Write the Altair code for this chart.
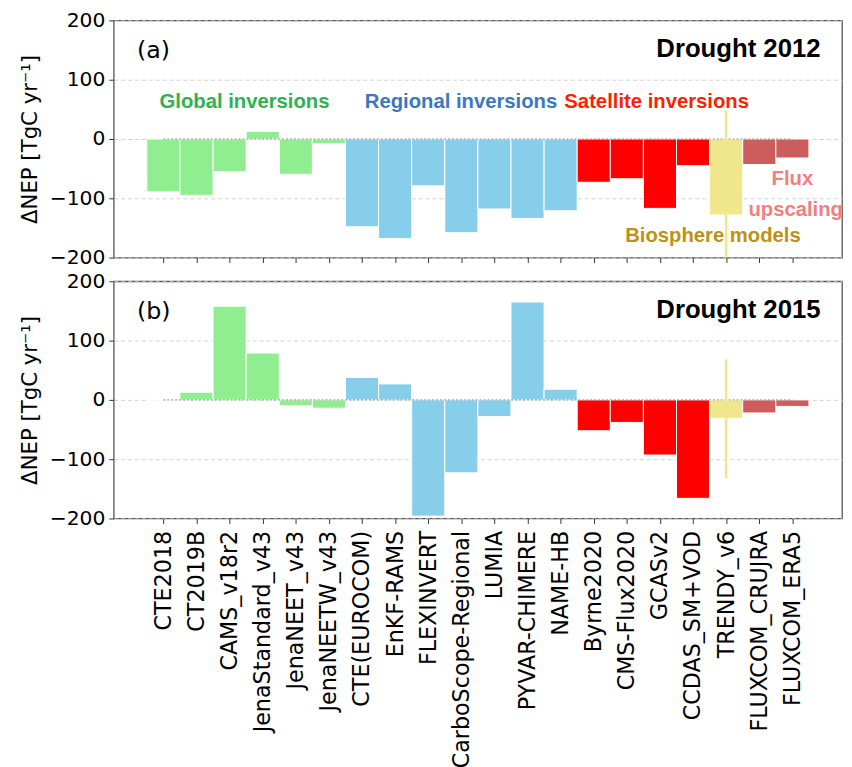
import json
import altair as alt
import pandas as pd

names = ["CTE2018", "CT2019B", "CAMS_v18r2", "JenaStandard_v43", "JenaNEET_v43",
         "JenaNEETW_v43", "CTE(EUROCOM)", "EnKF-RAMS", "FLEXINVERT", "CarboScope-Regional",
         "LUMIA", "PYVAR-CHIMERE", "NAME-HB", "Byrne2020", "CMS-Flux2020", "GCASv2",
         "CCDAS_SM+VOD", "TRENDY_v6", "FLUXCOM_CRUJRA", "FLUXCOM_ERA5"]
groups = ["Global"] * 6 + ["Regional"] * 7 + ["Satellite"] * 4 + ["Biosphere"] + ["Flux"] * 2
group_names = ["Global", "Regional", "Satellite", "Biosphere", "Flux"]
group_colors = ["#90ee90", "#87ceeb", "#ff0000", "#f0e68c", "#cd5c5c"]

v2012 = [-89, -95, -55, 13, -59.5, -8, -148, -168, -79, -158,
         -118, -134, -121, -73, -67, -117, -45, -128, -43, -32]
v2015 = [-0.5, 13, 158, 79, -10, -14, 38, 27, -196, -123,
         -28, 165, 18, -52, -38, -93, -166, -31, -22, -11]

# TRENDY spread (whisker) [top, bottom]
trendy_idx = 17
err2012 = [48, -260]
err2015 = [68, -132]

# annotations (panel a): text, x (category index units), y (data), colour
group_labels_text = ["Global inversions", "Regional inversions", "Satellite inversions",
                     "Biosphere models", "Flux", "upscaling"]
group_labels_x = [2.45, 8.99, 14.9, 16.6, 19.0, 19.1]
group_labels_y = [63, 63, 63, -163, -67, -120]
group_labels_color = ["#2db24f", "#3a78bf", "#ff1f00", "#bd9213", "#f08080", "#f08080"]

panel_letters = ["(a)", "(b)"]
panel_titles = ["Drought 2012", "Drought 2015"]

color_map = dict(zip(group_names, group_colors))
label_expr = json.dumps(names) + "[datum.value]"

W, H = 737, 240


def panel(values, err, letter, title, show_labels, with_groups):
    df = pd.DataFrame({
        "idx": list(range(len(names))),
        "name": names,
        "group": groups,
        "value": values,
    })
    df["lo"] = df["idx"] - 0.5
    df["hi"] = df["idx"] + 0.5
    df["base"] = 0.0
    df["col"] = [color_map[g] for g in groups]

    xscale = alt.Scale(domain=[-1.5, 20.5], nice=False, zero=False)
    yscale = alt.Scale(domain=[-200, 200], nice=False)
    xaxis = alt.Axis(values=list(range(len(names))), labelExpr=label_expr, labels=show_labels,
                     labelAngle=-90, labelAlign="right", labelBaseline="middle",
                     labelFont="DejaVu Sans", labelFontSize=22.5, labelColor="#000",
                     labelPadding=7, labelOverlap=False, labelFlush=False, labelBound=False,
                     labelLimit=0, tickSize=5, tickColor="#333", domain=False, grid=False,
                     title=None)
    yaxis = alt.Axis(values=[-200, -100, 0, 100, 200], grid=True, gridDash=[4, 3],
                     gridColor="#d2d2d2", gridWidth=1, domain=False,
                     labelFont="DejaVu Sans", labelFontSize=20.5, labelColor="#000",
                     labelPadding=4, tickSize=5, tickColor="#333",
                     title="ΔNEP [TgC yr⁻¹]", titleFont="DejaVu Sans", titleFontSize=21.5,
                     titleFontWeight="normal", titleColor="#000", titlePadding=8)

    def X(f):
        return alt.X(f, scale=xscale, axis=xaxis)

    def Y(f):
        return alt.Y(f, scale=yscale, axis=yaxis)

    bars = alt.Chart(df).mark_rect(stroke="white", strokeWidth=1).encode(
        x=X("lo:Q"), x2="hi:Q", y=Y("value:Q"), y2="base:Q",
        color=alt.Color("col:N", scale=None),
    )

    zdf = pd.DataFrame({"x": [0], "x2": [19], "y": [0]})
    zero_line = alt.Chart(zdf).mark_rule(color="#8c8c8c", strokeDash=[2, 2], strokeWidth=1).encode(
        x=X("x:Q"), x2="x2:Q", y=Y("y:Q"))

    edf = pd.DataFrame({"x": [trendy_idx], "y": [err[0]], "y2": [err[1]]})
    whisker = alt.Chart(edf).mark_rule(color="#f0e68c", strokeWidth=2.5, clip=True).encode(
        x=X("x:Q"), y=Y("y:Q"), y2="y2:Q")

    layers = [bars, zero_line, whisker]

    ldf = pd.DataFrame({"x": [-0.8], "y": [148], "t": [letter]})
    layers.append(alt.Chart(ldf).mark_text(font="DejaVu Sans", fontSize=24, align="left",
                                           baseline="middle", color="#000").encode(
        x=X("x:Q"), y=Y("y:Q"), text="t:N"))

    tdf = pd.DataFrame({"x": [19.85], "y": [152], "t": [title]})
    layers.append(alt.Chart(tdf).mark_text(font="Liberation Sans", fontSize=26, fontWeight="bold",
                                           align="right", baseline="middle", color="#000").encode(
        x=X("x:Q"), y=Y("y:Q"), text="t:N"))

    if with_groups:
        gdf = pd.DataFrame({"x": group_labels_x, "y": group_labels_y,
                            "t": group_labels_text, "c": group_labels_color})
        layers.append(alt.Chart(gdf).mark_text(font="Liberation Sans", fontSize=20.5, fontWeight="bold",
                                               align="center", baseline="middle").encode(
            x=X("x:Q"), y=Y("y:Q"), text="t:N",
            color=alt.Color("c:N", scale=None)))

    return alt.layer(*layers).properties(width=W, height=H)


top = panel(v2012, err2012, panel_letters[0], panel_titles[0], False, True)
bottom = panel(v2015, err2015, panel_letters[1], panel_titles[1], True, False)

chart = alt.vconcat(top, bottom, spacing=24, bounds="flush").properties(
    padding={"top": -3, "left": 11, "right": 0, "bottom": 0}
).configure_view(stroke="#555", strokeWidth=1.3)

chart.save("out.html", embed_options={"renderer": "svg", "actions": False})
